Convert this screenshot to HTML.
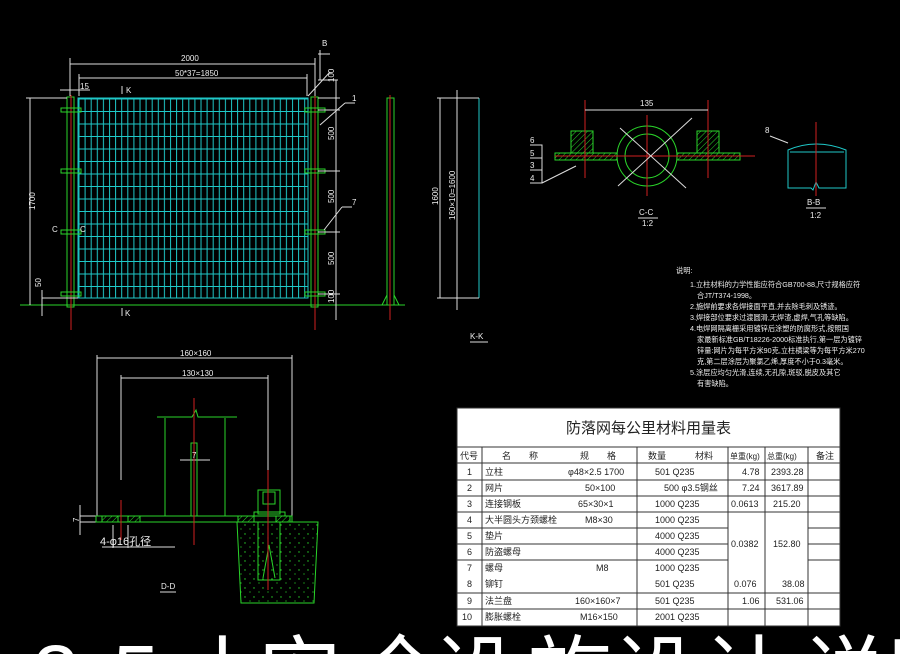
<!DOCTYPE html>
<html><head><meta charset="utf-8"><style>
html,body{margin:0;padding:0;background:#000;width:900px;height:654px;overflow:hidden}
svg{display:block}
text{font-family:"Liberation Sans","Noto Sans CJK SC",sans-serif}
</style></head><body>
<svg width="900" height="654" viewBox="0 0 900 654" xmlns="http://www.w3.org/2000/svg">
<defs>
<pattern id="mesh" x="78" y="98" width="6.1" height="12.5" patternUnits="userSpaceOnUse">
<line x1="1" y1="0" x2="1" y2="12.5" stroke="#1fc8c8" stroke-width="1"/>
<line x1="0" y1="1" x2="6.1" y2="1" stroke="#1fc8c8" stroke-width="1"/>
</pattern>
<pattern id="hatch" width="4" height="4" patternUnits="userSpaceOnUse" patternTransform="rotate(45)">
<line x1="0" y1="0" x2="0" y2="4" stroke="#2ad42a" stroke-width="1"/>
</pattern>
<pattern id="conc" width="9" height="9" patternUnits="userSpaceOnUse">
<circle cx="2" cy="3" r="0.7" fill="#2ad42a"/><circle cx="7" cy="7" r="0.6" fill="#2ad42a"/>
</pattern>
</defs>
<g fill="none" stroke-width="1">
<rect x="78" y="98" width="230" height="200" fill="url(#mesh)"/>
<rect x="78" y="98" width="230" height="200" stroke="#1fc8c8"/>
<line x1="20" y1="305" x2="405" y2="305" stroke="#2ad42a"/>
<rect x="67" y="97" width="7" height="210" stroke="#2ad42a"/>
<rect x="311" y="97" width="7" height="210" stroke="#2ad42a"/>
<line x1="71" y1="95" x2="71" y2="330" stroke="#d02020"/>
<line x1="315" y1="95" x2="315" y2="330" stroke="#d02020"/>
<g stroke="#2ad42a">
<rect x="61" y="108" width="20" height="4"/><rect x="61" y="169" width="20" height="4"/><rect x="61" y="230" width="20" height="4"/><rect x="61" y="292" width="20" height="4"/>
<rect x="305" y="108" width="20" height="4"/><rect x="305" y="169" width="20" height="4"/><rect x="305" y="230" width="20" height="4"/><rect x="305" y="292" width="20" height="4"/>
</g>
<g stroke="#ddd">
<line x1="70" y1="64" x2="315" y2="64"/><line x1="70" y1="58" x2="70" y2="96"/><line x1="315" y1="58" x2="315" y2="96"/>
<line x1="79" y1="78" x2="307" y2="78"/><line x1="79" y1="74" x2="79" y2="96"/><line x1="307" y1="74" x2="307" y2="96"/>
<line x1="60" y1="90" x2="90" y2="90"/>
<line x1="30" y1="98" x2="30" y2="305"/><line x1="26" y1="98" x2="67" y2="98"/>
<line x1="42" y1="298" x2="78" y2="298"/><line x1="42" y1="290" x2="42" y2="316"/>
<line x1="336" y1="80" x2="336" y2="320"/>
<line x1="318" y1="98" x2="340" y2="98"/><line x1="318" y1="110" x2="340" y2="110"/><line x1="318" y1="171" x2="340" y2="171"/><line x1="318" y1="232" x2="340" y2="232"/><line x1="318" y1="294" x2="340" y2="294"/>
<line x1="318" y1="80" x2="338" y2="80"/><line x1="320" y1="50" x2="320" y2="80"/>
<line x1="318" y1="54" x2="330" y2="54"/>
<line x1="308" y1="96" x2="330" y2="72"/>
<line x1="320" y1="125" x2="345" y2="103"/><line x1="345" y1="103" x2="355" y2="103"/>
<line x1="324" y1="230" x2="342" y2="207"/><line x1="342" y1="207" x2="352" y2="207"/>
<line x1="122" y1="86" x2="122" y2="94"/><line x1="122" y1="308" x2="122" y2="316"/>
</g>
<rect x="387" y="98" width="7" height="207" stroke="#2ad42a"/>
<line x1="390" y1="95" x2="390" y2="320" stroke="#d02020"/>
<path d="M382 305 L387 295 M399 305 L394 295" stroke="#2ad42a"/>
<line x1="479" y1="98" x2="479" y2="298" stroke="#1fc8c8"/>
<g stroke="#ddd">
<line x1="440" y1="98" x2="440" y2="298"/><line x1="457" y1="90" x2="457" y2="310"/>
<line x1="437" y1="98" x2="479" y2="98"/><line x1="437" y1="298" x2="479" y2="298"/>
<line x1="470" y1="342" x2="488" y2="342"/>
</g>
<g stroke="#2ad42a">
<circle cx="647" cy="156" r="30"/><circle cx="647" cy="156" r="22"/>
<rect x="555" y="153" width="62" height="7" fill="url(#hatch)"/>
<rect x="677" y="153" width="63" height="7" fill="url(#hatch)"/>
<rect x="571" y="131" width="22" height="22" fill="url(#hatch)"/>
<rect x="697" y="131" width="22" height="22" fill="url(#hatch)"/>
</g>
<g stroke="#d02020"><line x1="555" y1="156" x2="755" y2="156"/><line x1="647" y1="115" x2="647" y2="196"/><line x1="585" y1="100" x2="585" y2="178"/><line x1="708" y1="100" x2="708" y2="178"/></g>
<g stroke="#ddd">
<line x1="585" y1="110" x2="708" y2="110"/>
<line x1="618" y1="186" x2="692" y2="118"/><line x1="620" y1="128" x2="686" y2="188"/>
<path d="M530 145 H542 V183 H530 M530 158 H542 M530 170 H542 M542 183 L576 166"/>
<line x1="638" y1="218" x2="658" y2="218"/>
</g>
<path d="M788 150 Q816 138 846 150 V188 H819 L816 182 L813 190 L811 188 H788 Z" stroke="#1fc8c8"/>
<line x1="790" y1="152" x2="844" y2="152" stroke="#1fc8c8"/>
<line x1="816" y1="122" x2="816" y2="196" stroke="#d02020"/>
<path d="M770 136 L788 143" stroke="#ddd"/>
<line x1="806" y1="208" x2="826" y2="208" stroke="#ddd"/>
<g stroke="#ddd">
<line x1="97" y1="358" x2="292" y2="358"/><line x1="97" y1="355" x2="97" y2="516"/><line x1="292" y1="355" x2="292" y2="516"/>
<line x1="121" y1="378" x2="268" y2="378"/><line x1="121" y1="375" x2="121" y2="480"/><line x1="268" y1="375" x2="268" y2="480"/>
<line x1="80" y1="516" x2="96" y2="516"/><line x1="80" y1="522" x2="96" y2="522"/><line x1="80" y1="505" x2="80" y2="535"/>
<line x1="113" y1="525" x2="113" y2="548"/><line x1="128" y1="525" x2="128" y2="548"/><line x1="102" y1="547" x2="175" y2="547"/>
<line x1="180" y1="460" x2="210" y2="460"/>
<line x1="160" y1="592" x2="176" y2="592"/>
</g>
<g stroke="#2ad42a">
<rect x="96" y="516" width="196" height="6"/>
<rect x="102" y="516" width="16" height="6" fill="url(#hatch)"/><rect x="128" y="516" width="12" height="6" fill="url(#hatch)"/>
<rect x="238" y="516" width="16" height="6" fill="url(#hatch)"/><rect x="276" y="516" width="14" height="6" fill="url(#hatch)"/>
<line x1="165" y1="418" x2="165" y2="516"/><line x1="225" y1="418" x2="225" y2="516"/>
<path d="M157 417 H192 L196 410 L198 417 H237"/>
<rect x="191" y="443" width="6" height="73"/>
<rect x="258" y="490" width="22" height="24"/><rect x="263" y="492" width="12" height="12"/><rect x="254" y="512" width="31" height="4"/>
<path d="M237 522 H318 L314 603 H241 Z" fill="url(#conc)"/>
<path d="M258 522 V580 H280 V522 M263 578 L269 545 L275 578"/>
</g>
<g stroke="#d02020"><line x1="194" y1="398" x2="194" y2="545"/><line x1="268" y1="470" x2="268" y2="590"/><line x1="121" y1="500" x2="121" y2="540"/></g>
</g>
<g fill="#eee" font-size="8">
<text x="181" y="61">2000</text><text x="175" y="76">50*37=1850</text>
<text x="80" y="89">15</text><text x="126" y="93">K</text><text x="125" y="316">K</text>
<text x="322" y="46">B</text>
<text x="352" y="101">1</text><text x="352" y="205">7</text>
<text x="52" y="232">C</text><text x="80" y="232">C</text>
<text transform="translate(35,210) rotate(-90)">1700</text>
<text transform="translate(41,287) rotate(-90)">50</text>
<text transform="translate(334,82) rotate(-90)">100</text>
<text transform="translate(334,140) rotate(-90)">500</text>
<text transform="translate(334,203) rotate(-90)">500</text>
<text transform="translate(334,265) rotate(-90)">500</text>
<text transform="translate(334,303) rotate(-90)">100</text>
<text transform="translate(438,205) rotate(-90)">1600</text>
<text transform="translate(455,220) rotate(-90)">160×10=1600</text>
<text x="470" y="339">K-K</text>
<text x="640" y="106">135</text>
<text x="530" y="143">6</text><text x="530" y="156">5</text><text x="530" y="168">3</text><text x="530" y="181">4</text>
<text x="639" y="215">C-C</text><text x="642" y="226">1:2</text>
<text x="765" y="133">8</text>
<text x="807" y="205">B-B</text><text x="810" y="218">1:2</text>
<text x="180" y="356">160×160</text><text x="182" y="376">130×130</text>
<text x="192" y="458">7</text><text transform="translate(79,522) rotate(-90)">7</text>
<text x="161" y="589">D-D</text>
</g>
<text x="100" y="545" fill="#eee" font-size="11">4-φ16孔径</text>
<g fill="#eee" font-size="7.2">
<text x="676" y="273">说明:</text>
<text x="690" y="287">1.立柱材料的力学性能应符合GB700-88,尺寸规格应符</text>
<text x="697" y="298">合JT/T374-1998。</text>
<text x="690" y="309">2.施焊前要求各焊接面平直,并去除毛刺及锈迹。</text>
<text x="690" y="320">3.焊接部位要求过渡圆滑,无焊渣,虚焊,气孔等缺陷。</text>
<text x="690" y="331">4.电焊网隔离栅采用镀锌后涂塑的防腐形式,按照国</text>
<text x="697" y="342">家最新标准GB/T18226-2000标准执行,第一层为镀锌</text>
<text x="697" y="353">锌量:网片为每平方米90克,立柱横梁等为每平方米270</text>
<text x="697" y="364">克,第二层涂层为聚氯乙烯,厚度不小于0.3毫米。</text>
<text x="690" y="375">5.涂层应均匀光滑,连续,无孔隙,斑驳,脱皮及其它</text>
<text x="697" y="386">有害缺陷。</text>
</g>
<rect x="457" y="408" width="383" height="218" fill="#fff"/>
<g stroke="#333" stroke-width="1" fill="none">
<rect x="457" y="408" width="383" height="218"/>
<line x1="457" y1="447" x2="840" y2="447"/>
<line x1="457" y1="463" x2="840" y2="463"/>
<line x1="457" y1="480" x2="840" y2="480"/>
<line x1="457" y1="496" x2="840" y2="496"/>
<line x1="457" y1="512" x2="840" y2="512"/>
<line x1="457" y1="528" x2="728" y2="528"/><line x1="808" y1="528" x2="840" y2="528"/>
<line x1="457" y1="544" x2="728" y2="544"/><line x1="808" y1="544" x2="840" y2="544"/>
<line x1="457" y1="560" x2="728" y2="560"/><line x1="808" y1="560" x2="840" y2="560"/>
<line x1="457" y1="593" x2="840" y2="593"/>
<line x1="457" y1="609" x2="840" y2="609"/>
<line x1="482" y1="447" x2="482" y2="626"/><line x1="637" y1="447" x2="637" y2="626"/>
<line x1="728" y1="447" x2="728" y2="626"/><line x1="765" y1="447" x2="765" y2="626"/><line x1="808" y1="447" x2="808" y2="626"/>
</g>
<g fill="#222" font-size="9" font-family="Liberation Serif,Noto Serif CJK SC,serif">
<text x="566" y="433" font-size="15">防落网每公里材料用量表</text>
<text x="460" y="459">代号</text><text x="502" y="459">名　　称</text><text x="580" y="459">规　　格</text><text x="648" y="459">数量</text><text x="695" y="459">材料</text><text x="730" y="459" font-size="8">单重(kg)</text><text x="767" y="459" font-size="8">总重(kg)</text><text x="816" y="459">备注</text>
<text x="467" y="475">1</text><text x="485" y="475">立柱</text><text x="568" y="475">φ48×2.5 1700</text><text x="655" y="475">501 Q235</text><text x="742" y="475">4.78</text><text x="771" y="475">2393.28</text>
<text x="467" y="491">2</text><text x="485" y="491">网片</text><text x="585" y="491">50×100</text><text x="664" y="491">500 φ3.5钢丝</text><text x="742" y="491">7.24</text><text x="771" y="491">3617.89</text>
<text x="467" y="507">3</text><text x="485" y="507">连接钢板</text><text x="578" y="507">65×30×1</text><text x="655" y="507">1000 Q235</text><text x="731" y="507">0.0613</text><text x="773" y="507">215.20</text>
<text x="467" y="523">4</text><text x="485" y="523">大半圆头方颈螺栓</text><text x="585" y="523">M8×30</text><text x="655" y="523">1000 Q235</text>
<text x="467" y="539">5</text><text x="485" y="539">垫片</text><text x="655" y="539">4000 Q235</text><text x="731" y="547">0.0382</text><text x="773" y="547">152.80</text>
<text x="467" y="555">6</text><text x="485" y="555">防盗螺母</text><text x="655" y="555">4000 Q235</text>
<text x="467" y="571">7</text><text x="485" y="571">螺母</text><text x="596" y="571">M8</text><text x="655" y="571">1000 Q235</text>
<text x="467" y="587">8</text><text x="485" y="587">铆钉</text><text x="655" y="587">501 Q235</text><text x="734" y="587">0.076</text><text x="782" y="587">38.08</text>
<text x="467" y="604">9</text><text x="485" y="604">法兰盘</text><text x="575" y="604">160×160×7</text><text x="655" y="604">501 Q235</text><text x="742" y="604">1.06</text><text x="776" y="604">531.06</text>
<text x="462" y="620">10</text><text x="485" y="620">膨胀螺栓</text><text x="580" y="620">M16×150</text><text x="655" y="620">2001 Q235</text>
</g>
<g fill="#fff" font-size="84" text-anchor="middle" font-family="Liberation Sans,Noto Sans CJK SC,sans-serif">
<text x="56" y="704">3</text><text x="92" y="704">.</text><text x="136" y="704">5</text>
<text x="222" y="705">小</text><text x="300" y="705">安</text><text x="400" y="705">全</text><text x="475" y="705">设</text><text x="570" y="705">施</text><text x="655" y="705">设</text><text x="745" y="705">计</text><text x="845" y="705">说</text><text x="930" y="705">明</text>
</g>
</svg>
</body></html>
